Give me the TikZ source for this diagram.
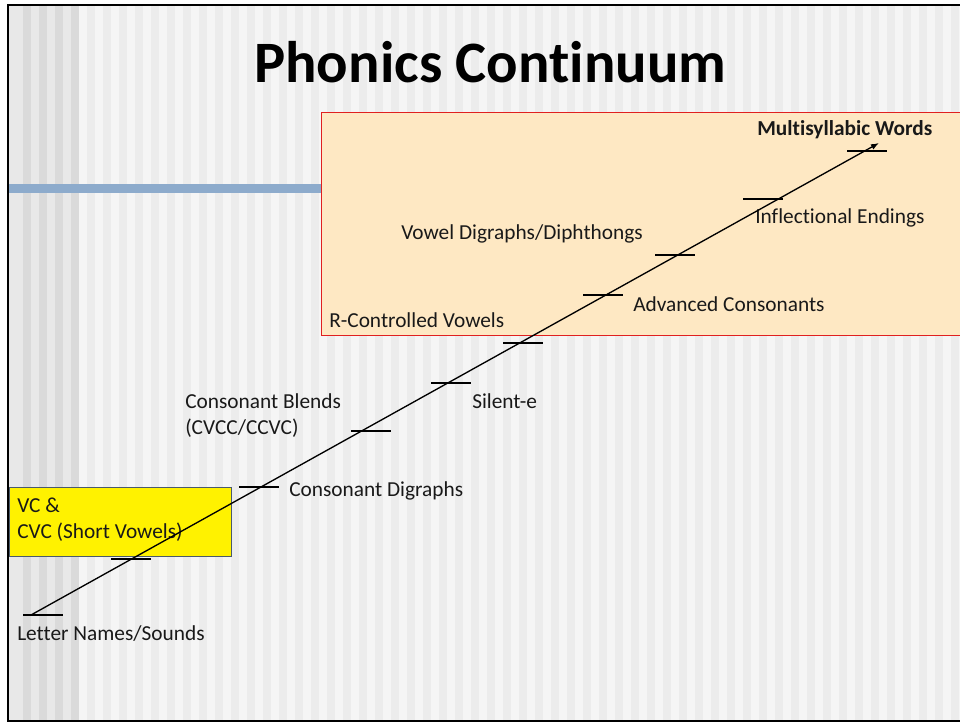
\documentclass[tikz,border=0pt]{standalone}
\usepackage{fontspec}
\setmainfont{Carlito}[Ligatures={NoCommon}]
\usetikzlibrary{arrows.meta}
\definecolor{stripeA}{HTML}{E8E8E8}
\definecolor{stripeB}{HTML}{DADADA}
\definecolor{stripeC}{HTML}{F5F5F5}
\definecolor{stripeD}{HTML}{ECECEC}
\definecolor{orangefill}{HTML}{FEE8C3}
\definecolor{orangeline}{HTML}{E02020}
\definecolor{bluebar}{HTML}{8DABCC}
\definecolor{yellowline}{HTML}{4A5A6A}
\tikzset{
  lbl/.style={anchor=base west, inner sep=0pt, font=\fontsize{16}{19}\selectfont, text=black!90},
  boldlbl/.style={lbl, font=\fontsize{16}{19}\selectfont\bfseries},
  tick/.style={line width=0.8pt, black},
  axis/.style={line width=1pt, black, -{Latex[length=6pt,width=4.5pt]}}
}
\begin{document}
\begin{tikzpicture}[x=0.75pt,y=-0.75pt]
\useasboundingbox (0,0) rectangle (960,723);
% background stripes
\fill[white] (0,0) rectangle (960,723);
\fill[stripeA] (8,5) rectangle (79,721);
\foreach \x in {23,39,55,71} \fill[stripeB] (\x,5) rectangle ++(8,716);
\fill[stripeC] (79,5) rectangle (962,721);
\foreach \x in {87,103,...,951} \fill[stripeD] (\x,5) rectangle ++(8,716);
% frame
\draw[line width=1.5pt, black] (8,5) rectangle (963,721);
% blue bar
\fill[bluebar] (9,184) rectangle (321,193);
% orange box
\node[draw=orangeline, fill=orangefill, line width=0.8pt, minimum width=481.5pt, minimum height=167.25pt, inner sep=0pt, anchor=north west] (obox) at (321,112) {};
% yellow box
\node[draw=yellowline, fill=yellow, line width=0.6pt, minimum width=166.5pt, minimum height=51.75pt, inner sep=0pt, anchor=north west] (ybox) at (9,487) {};
% title
\node[anchor=base west, inner sep=0pt, font=\fontsize{44}{52}\selectfont\bfseries] (title) at (254,83) {Phonics Continuum};
% labels
\node[lbl] (letter) at (17,640) {Letter Names/Sounds};
\node[lbl] (vc) at (17,512) {VC \&};
\node[lbl] (cvc) at (17,538) {CVC (Short Vowels)};
\node[lbl] (cdig) at (289,496) {Consonant Digraphs};
\node[lbl] (cbl1) at (185,408) {Consonant Blends};
\node[lbl] (cbl2) at (185,435) {(CVCC/CCVC)};
\node[lbl] (sile) at (472,408) {Silent-e};
\node[lbl] (rcon) at (329,328) {R-Controlled Vowels};
\node[lbl] (vdig) at (401,240) {Vowel Digraphs/Diphthongs};
\node[lbl] (adv) at (633,312) {Advanced Consonants};
\node[lbl] (infl) at (755,224) {Inflectional Endings};
\node[boldlbl] (multi) at (757,136) {Multisyllabic Words};
% axis
\coordinate (start) at (31,615);
\coordinate (end) at (879,143);
\draw[axis] (start) -- (end);
% ticks
\foreach \xa/\y in {23/615,111/559,239/487,351/431,431/383,503/343,583/295,655/255,743/199,847/151}
  \draw[tick] (\xa,\y) -- ++(40,0);
\end{tikzpicture}
\end{document}
